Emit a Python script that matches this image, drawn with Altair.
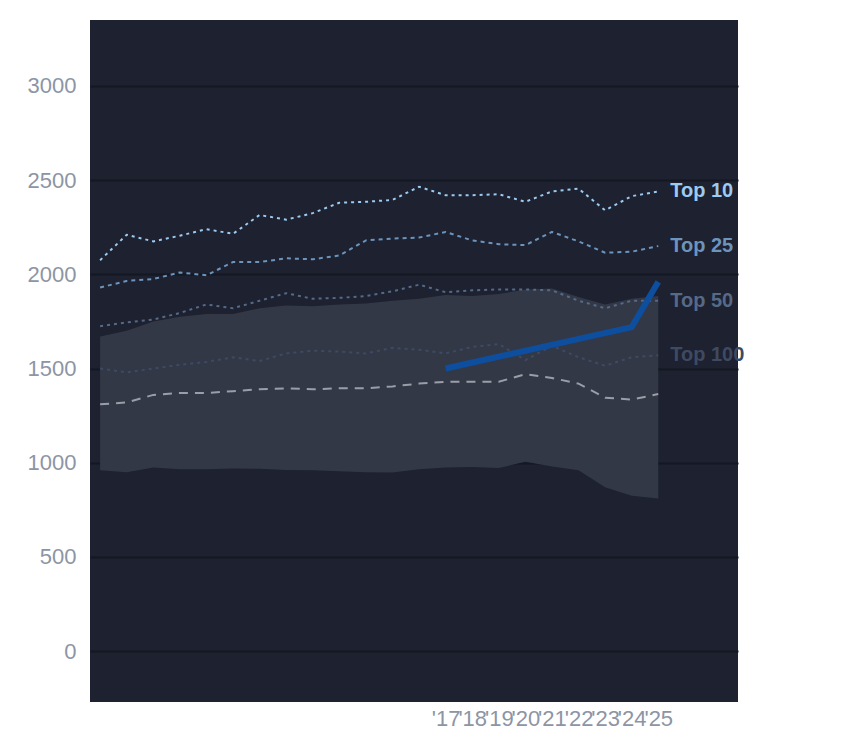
import altair as alt
import pandas as pd

years = list(range(2004, 2026))
top10 = [2075, 2210, 2175, 2205, 2240, 2215, 2315, 2290, 2325, 2380, 2385,
         2395, 2465, 2420, 2420, 2425, 2385, 2440, 2455, 2340, 2415, 2440]
top25 = [1930, 1965, 1975, 2010, 1995, 2065, 2065, 2085, 2080, 2100, 2180,
         2190, 2195, 2225, 2180, 2160, 2155, 2225, 2175, 2115, 2120, 2150]
top50 = [1725, 1745, 1760, 1795, 1840, 1820, 1860, 1900, 1870, 1875, 1885,
         1910, 1945, 1905, 1915, 1920, 1920, 1915, 1860, 1820, 1860, 1860]
top100 = [1500, 1480, 1500, 1520, 1535, 1560, 1540, 1580, 1595, 1590, 1580,
          1610, 1600, 1580, 1615, 1630, 1545, 1620, 1560, 1515, 1560, 1570]
median = [1310, 1320, 1360, 1370, 1370, 1380, 1390, 1395, 1390, 1395, 1395,
          1405, 1420, 1430, 1430, 1430, 1470, 1450, 1420, 1345, 1335, 1365]
band_hi = [1670, 1700, 1750, 1775, 1790, 1790, 1820, 1835, 1830, 1840, 1845,
           1860, 1870, 1890, 1885, 1895, 1920, 1925, 1880, 1840, 1870, 1885]
band_lo = [960, 950, 975, 965, 965, 970, 968, 962, 960, 955, 950,
           948, 965, 975, 978, 972, 1005, 980, 960, 870, 825, 810]

hl_years = [2017, 2024, 2025]
hl_values = [1500, 1720, 1960]

tick_years = list(range(2017, 2026))
series = [("Top 10", top10, "#9ccaf0", [3, 4]),
          ("Top 25", top25, "#6c94bd", [4, 4]),
          ("Top 50", top50, "#566a88", [3, 4]),
          ("Top 100", top100, "#3e4a62", [3, 4])]

band_df = pd.DataFrame({"year": years, "lo": band_lo, "hi": band_hi, "med": median})

x_scale = alt.Scale(domain=[2003.62, 2028.0], nice=False, zero=False)
y_scale = alt.Scale(domain=[-270, 3350], nice=False, zero=False)

base = alt.Chart(band_df)
band = base.mark_area(color="#333847", opacity=1).encode(
    x=alt.X("year:Q", scale=x_scale, title=None,
            axis=alt.Axis(values=tick_years, labelExpr="\"'\" + slice(toString(datum.value), 2)",
                          domain=False, ticks=False, grid=False, labelColor="#8c95a5",
                          labelFontSize=22, labelFont="Arial", labelPadding=6,
                          labelOverlap=False)),
    y=alt.Y("lo:Q", scale=y_scale, title=None,
            axis=alt.Axis(values=[0, 500, 1000, 1500, 2000, 2500, 3000], domain=False,
                          ticks=False, gridColor="#141823", gridWidth=2, format="d",
                          labelColor="#8c95a5", labelFontSize=22, labelFont="Arial",
                          labelPadding=14)),
    y2="hi:Q",
)
med_line = base.mark_line(color="#9a9ea8", strokeWidth=2, strokeDash=[9, 7]).encode(
    x=alt.X("year:Q", scale=x_scale), y=alt.Y("med:Q", scale=y_scale))

layers = [band, med_line]
for name, vals, color, dash in series:
    df = pd.DataFrame({"year": years, "v": vals})
    layers.append(alt.Chart(df).mark_line(color=color, strokeWidth=2, strokeDash=dash).encode(
        x=alt.X("year:Q", scale=x_scale), y=alt.Y("v:Q", scale=y_scale)))
    lab = pd.DataFrame({"year": [years[-1]], "v": [vals[-1]], "name": [name]})
    layers.append(alt.Chart(lab).mark_text(color=color, align="left", dx=12, fontSize=20,
                                           fontWeight="bold", font="Arial").encode(
        x=alt.X("year:Q", scale=x_scale), y=alt.Y("v:Q", scale=y_scale), text="name:N"))

hl_df = pd.DataFrame({"year": hl_years, "v": hl_values})
layers.append(alt.Chart(hl_df).mark_line(color="#0d4f9e", strokeWidth=6).encode(
    x=alt.X("year:Q", scale=x_scale), y=alt.Y("v:Q", scale=y_scale)))

chart = alt.layer(*layers).properties(
    width=648, height=682,
    background="white",
    autosize=alt.AutoSizeParams(type="none"),
    padding={"left": 82, "top": 12, "right": 90, "bottom": 40},
).configure_view(fill="#1d2130", stroke=None)

chart.save("out.html", embed_options={"renderer": "svg", "actions": False})
